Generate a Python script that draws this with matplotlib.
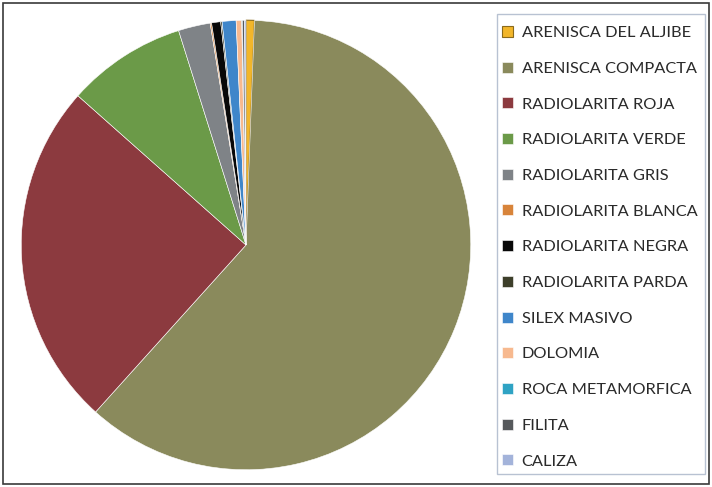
import matplotlib.pyplot as plt
from matplotlib.patches import Rectangle

plt.rcParams['font.family'] = ['Lato', 'DejaVu Sans']

# rock types, in drawing order (clockwise from the top)
labels = ["ARENISCA DEL ALJIBE", "ARENISCA COMPACTA", "RADIOLARITA ROJA",
          "RADIOLARITA VERDE", "RADIOLARITA GRIS", "RADIOLARITA BLANCA",
          "RADIOLARITA NEGRA", "RADIOLARITA PARDA", "SILEX MASIVO",
          "DOLOMIA", "ROCA METAMORFICA", "FILITA", "CALIZA"]
# share of each type (%)
values = [0.6, 61.1, 24.9, 8.6, 2.3, 0.1, 0.65, 0.1, 1.0, 0.4, 0.05, 0.15, 0.1]
colors = ["#F2B62A", "#8A8A5C", "#8C3A3F", "#6B9A48", "#7F8387", "#D8843A",
          "#080808", "#3D3F2A", "#3F86CA", "#F7B98F", "#2FA3C4", "#56595C",
          "#A3B3DA"]

fig = plt.figure(figsize=(7.12, 4.87), dpi=100)
W, H = 712, 487

# pie centre (246, 245) px, radius 227 px
cx, cy, r = 246, 245, 227
ax = fig.add_axes([(cx - r) / W, (H - cy - r) / H, 2 * r / W, 2 * r / H])
wedges, _ = ax.pie(values, colors=colors, startangle=90, counterclock=False,
                   radius=1, wedgeprops=dict(edgecolor="white", linewidth=0.4))
wedges[0].set_edgecolor("#8A6A1C")
wedges[0].set_linewidth(0.8)
ax.set_xlim(-1.01, 1.01)
ax.set_ylim(-1.01, 1.01)

# outer frame
fig.patches.append(Rectangle((3 / W, 3 / H), 706 / W, 481 / H, transform=fig.transFigure,
                             fill=False, edgecolor="#3a3a3a", linewidth=1.2))
# legend frame
fig.patches.append(Rectangle((497 / W, (H - 474) / H), 208 / W, 460 / H,
                             transform=fig.transFigure, fill=False,
                             edgecolor="#B8C2D2", linewidth=1.0))

leg = fig.legend(wedges, labels, loc="upper left",
                 bbox_to_anchor=(502 / W, (H - 26) / H),
                 frameon=False, fontsize=11.8, handlelength=0.65, handleheight=0.65,
                 handletextpad=0.55, labelspacing=1.31, borderaxespad=0,
                 borderpad=0)
for t in leg.get_texts():
    t.set_color("#2a2a2a")

fig.savefig("out.png", dpi=100)
